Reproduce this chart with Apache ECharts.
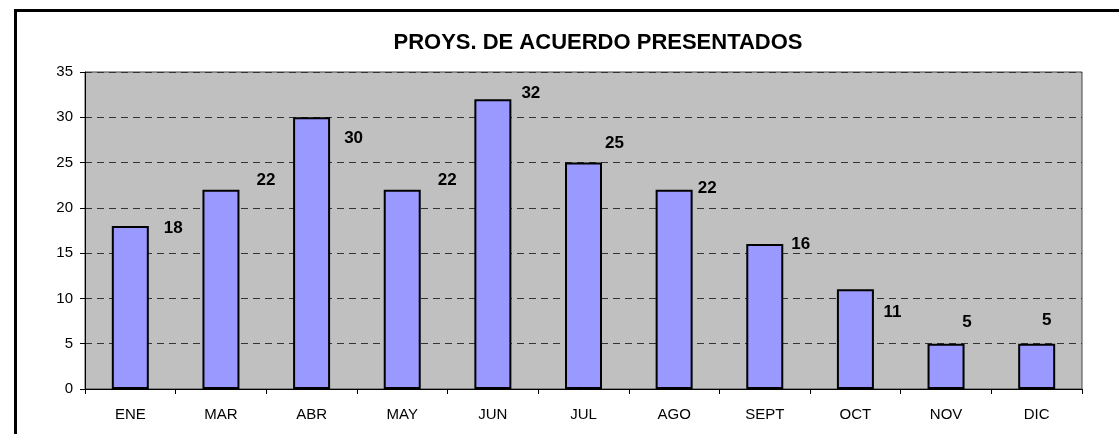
<!DOCTYPE html>
<html>
<head>
<meta charset="utf-8">
<script src="https://cdn.jsdelivr.net/npm/echarts@6/dist/echarts.min.js"></script>
<style>
  html, body { margin: 0; padding: 0; background: #fff; overflow: hidden; }
  #frame { position: absolute; left: 14px; top: 9px; width: 1200px; height: 500px;
           border-left: 3px solid #000; border-top: 3px solid #000; }
  #chart { position: absolute; left: 0; top: 0; width: 1119px; height: 434px; }
</style>
</head>
<body>
<div id="frame"></div>
<div id="chart"></div>
<script>
// datos del grafico
var meses = ["ENE", "MAR", "ABR", "MAY", "JUN", "JUL", "AGO", "SEPT", "OCT", "NOV", "DIC"];
var presentados = [18, 22, 30, 22, 32, 25, 22, 16, 11, 5, 5];
var ejeY = { min: 0, max: 35, interval: 5 };

// desplazamiento de cada etiqueta respecto a la esquina superior de la barra (estilo)
var desplazamientos = [[43, 2], [45, -9], [42, 21], [45, -9], [38, -6], [31, -19],
                       [33, -1], [36, 0], [37, 23], [21, -21], [10, -23]];

var FONT = "'Liberation Sans', Arial, sans-serif";

var datos = [];
for (var i = 0; i < presentados.length; i++) {
    datos.push({
        value: presentados[i],
        label: { offset: desplazamientos[i] }
    });
}

var chart = echarts.init(document.getElementById("chart"));
chart.setOption({
    animation: false,
    textStyle: { fontFamily: FONT, color: "#000" },
    title: {
        text: "PROYS. DE ACUERDO PRESENTADOS",
        left: 593,
        top: 27,
        textAlign: "center",
        textStyle: { fontFamily: FONT, fontSize: 22, fontWeight: "bold", color: "#000" }
    },
    grid: {
        left: 85, top: 72, right: 37, bottom: 45,
        show: true,
        backgroundColor: "#C0C0C0",
        borderColor: "#444",
        borderWidth: 1
    },
    xAxis: {
        type: "category",
        data: meses,
        axisLine: { lineStyle: { color: "#000", width: 1 } },
        axisTick: { show: true, length: 5, lineStyle: { color: "#000" } },
        axisLabel: { fontFamily: FONT, fontSize: 15, color: "#000", margin: 18 }
    },
    yAxis: {
        type: "value",
        min: ejeY.min,
        max: ejeY.max,
        interval: ejeY.interval,
        axisLine: { show: true, lineStyle: { color: "#000", width: 1 } },
        axisTick: { show: true, length: 5, lineStyle: { color: "#000" } },
        axisLabel: { fontFamily: FONT, fontSize: 15, color: "#000", margin: 12 },
        splitLine: { show: true, lineStyle: { color: "#333", type: [7, 5], width: 1 } }
    },
    series: [{
        type: "bar",
        data: datos,
        barWidth: 37,
        itemStyle: { color: "#9999FF", borderColor: "#000", borderWidth: 2 },
        label: {
            show: true,
            position: ["50%", 0],
            align: "center",
            verticalAlign: "middle",
            fontFamily: FONT,
            fontSize: 17,
            fontWeight: "bold",
            color: "#000"
        }
    }]
});
</script>
</body>
</html>
